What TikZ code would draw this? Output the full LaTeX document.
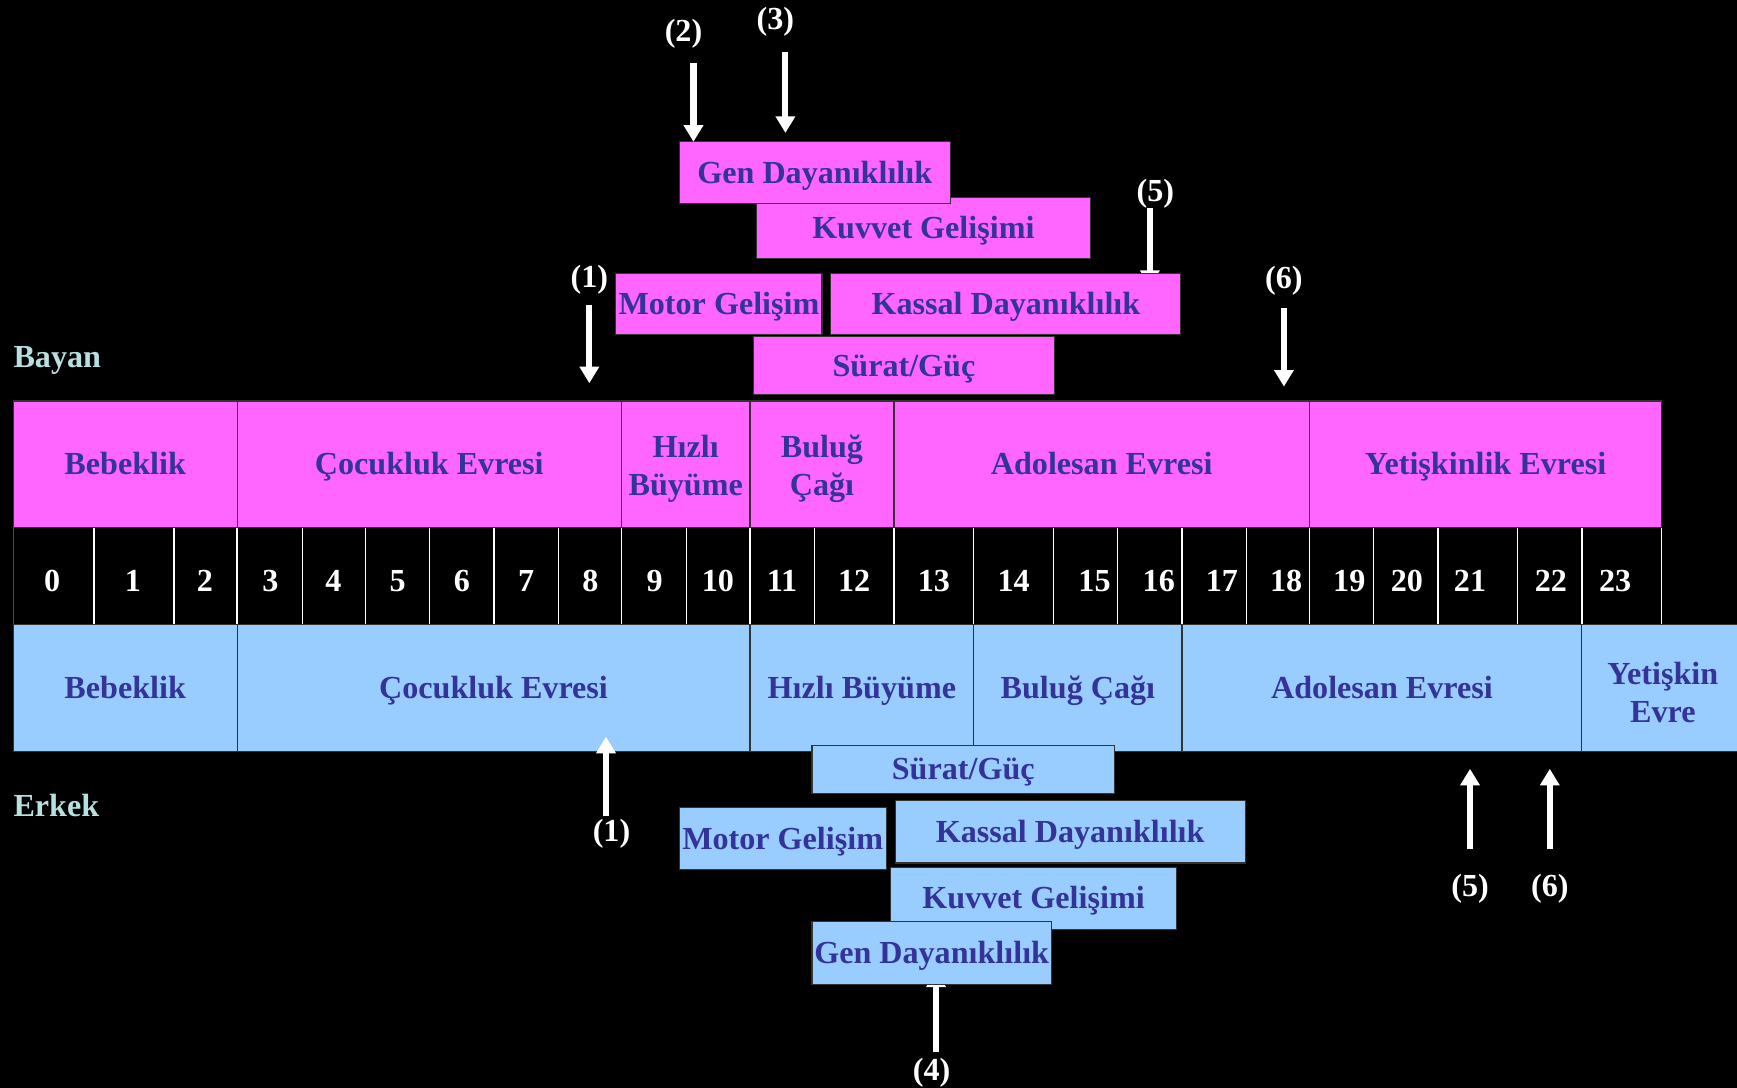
\documentclass[tikz,border=0pt]{standalone}
\usepackage{fontspec}
\setmainfont{Liberation Serif}
\usetikzlibrary{arrows.meta}
\definecolor{pk}{HTML}{FF66FF}
\definecolor{bl}{HTML}{99CCFF}
\definecolor{tx}{HTML}{333399}
\definecolor{lb}{HTML}{B7E1E1}
\begin{document}
\begin{tikzpicture}[x=1pt,y=-1pt,
 big/.style={font=\bfseries\fontsize{29}{34}\selectfont},
 cell/.style={big, text=tx, draw=black!80, line width=1pt, inner sep=0pt, outer sep=0pt, anchor=north west, align=center},
 one/.style={text height=26pt, text depth=7pt},
 two/.style={yshift=-4pt},
 pcell/.style={cell, fill=pk},
 bcell/.style={cell, fill=bl},
 num/.style={big, text=white, inner sep=0pt, one},
 tag/.style={big, text=white, inner sep=0pt, one},
 side/.style={big, text=lb, anchor=base west, inner sep=0pt},
 arr/.style={draw=white, line width=5.5pt, -{Triangle[length=15pt,width=17pt]}},
 divl/.style={draw=white, line width=1.2pt},
]
\fill[black] (0,0) rectangle (1568,982);
\useasboundingbox (0,0) rectangle (1568,982);

% side labels
\node[side] (bayan) at (12,332) {Bayan};
\node[side] (erkek) at (12,737) {Erkek};

% pink band (Bayan)
\node[pcell, one, minimum width=202pt, minimum height=114pt] (pBeb) at (12,362) {Bebeklik};
\node[pcell, one, minimum width=347pt, minimum height=114pt] (pCoc) at (214,362) {Çocukluk Evresi};
\node[pcell, minimum width=116pt, minimum height=114pt] (pHiz) at (561,362) {};
\node[big, text=tx, align=center, two] (pHizT) at (pHiz.center) {Hızlı\\Büyüme};
\node[pcell, minimum width=130pt, minimum height=114pt] (pBul) at (677,362) {};
\node[big, text=tx, align=center, two] (pBulT) at (pBul.center) {Buluğ\\Çağı};
\node[pcell, one, minimum width=375pt, minimum height=114pt] (pAdo) at (807,362) {Adolesan Evresi};
\node[pcell, one, minimum width=318pt, minimum height=114pt] (pYet) at (1182,362) {Yetişkinlik Evresi};

% number row
\foreach \xx in {85,157,214,273,330,388,446,504,561,620,677,735,807,879,951,1009,1067,1125,1182,1240,1298,1370,1428,1500}
  \draw[divl] (\xx,477) -- (\xx,563);
\draw[black!70, line width=1pt] (12,476) -- (12,564);
\foreach \n/\xx in {0/47,1/120,2/185,3/244,4/301,5/359,6/417,7/475,8/533,9/591,10/648,11/706,12/771,13/843,14/915,15/988,16/1046,17/1103,18/1161,19/1218,20/1270,21/1327,22/1400,23/1458}
  \node[num] (n\n) at (\xx,524) {\n};

% blue band (Erkek)
\node[bcell, one, minimum width=202pt, minimum height=114pt] (bBeb) at (12,564) {Bebeklik};
\node[bcell, one, minimum width=463pt, minimum height=114pt] (bCoc) at (214,564) {Çocukluk Evresi};
\node[bcell, one, minimum width=202pt, minimum height=114pt] (bHiz) at (677,564) {Hızlı Büyüme};
\node[bcell, one, minimum width=188pt, minimum height=114pt] (bBul) at (879,564) {Buluğ Çağı};
\node[bcell, one, minimum width=361pt, minimum height=114pt] (bAdo) at (1067,564) {Adolesan Evresi};
\node[bcell, minimum width=146pt, minimum height=114pt] (bYet) at (1428,564) {};
\node[big, text=tx, align=center, two] (bYetT) at (bYet.center) {Yetişkin\\Evre};

% top arrows and tags
\node[tag] (t2) at (617,28) {(2)};
\node[tag] (t3) at (700,17) {(3)};
\node[tag] (t5) at (1043,172) {(5)};
\node[tag] (t1) at (532,250) {(1)};
\node[tag] (t6) at (1159,251) {(6)};
\coordinate (a2s) at (626,57);
\coordinate (a3s) at (709,47);
\coordinate (a3e) at (709,120);
\coordinate (a5s) at (1038,188);
\coordinate (a5e) at (1038,259);
\coordinate (a1s) at (532,275);
\coordinate (a1e) at (532,346);
\coordinate (a6s) at (1159,278);
\coordinate (a6e) at (1159,349);
\draw[arr] (a3s) -- (a3e);
\draw[arr] (a5s) -- (a5e);
\draw[arr] (a1s) -- (a1e);
\draw[arr] (a6s) -- (a6e);

% top (pink) boxes
\node[pcell, one, minimum width=301pt, minimum height=55pt] (pKuv) at (683,178) {Kuvvet Gelişimi};
\node[pcell, one, minimum width=245pt, minimum height=56pt] (pGen) at (613,128) {Gen Dayanıklılık};
\node[pcell, one, minimum width=272pt, minimum height=52pt] (pSur) at (680,304) {Sürat/Güç};
\node[pcell, one, minimum width=186pt, minimum height=55pt] (pMot) at (556,247) {Motor Gelişim};
\node[pcell, one, minimum width=316pt, minimum height=55pt] (pKas) at (750,247) {Kassal Dayanıklılık};
\draw[arr] (a2s) -- (a2s |- pGen.north);

% bottom arrows and tags
\node[tag] (b1) at (552,750) {(1)};
\node[tag] (b4) at (841,966) {(4)};
\node[tag] (b5) at (1327,800) {(5)};
\node[tag] (b6) at (1399,800) {(6)};
\coordinate (c1s) at (547,737);
\coordinate (c1e) at (547,665);
\coordinate (c4s) at (845,950);
\coordinate (c4e) at (845,876);
\coordinate (c5s) at (1327,766);
\coordinate (c5e) at (1327,694);
\coordinate (c6s) at (1399,766);
\coordinate (c6e) at (1399,694);
\draw[arr] (c1s) -- (c1e);
\draw[arr] (c4s) -- (c4e);
\draw[arr] (c5s) -- (c5e);
\draw[arr] (c6s) -- (c6e);

% bottom (blue) boxes
\node[bcell, one, minimum width=273pt, minimum height=43pt] (bSur) at (733,673) {Sürat/Güç};
\node[bcell, one, minimum width=187pt, minimum height=56pt] (bMot) at (613,729) {Motor Gelişim};
\node[bcell, one, minimum width=316pt, minimum height=56pt] (bKas) at (808,723) {Kassal Dayanıklılık};
\node[bcell, one, minimum width=258pt, minimum height=56pt] (bKuv) at (804,783) {Kuvvet Gelişimi};
\node[bcell, one, minimum width=216pt, minimum height=57pt] (bGen) at (733,832) {Gen Dayanıklılık};
\end{tikzpicture}
\end{document}
